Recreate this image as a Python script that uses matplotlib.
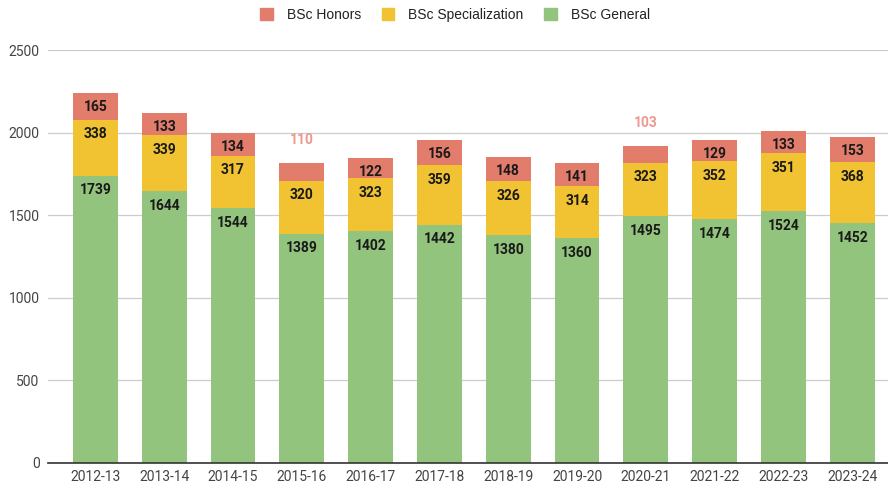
import numpy as np
import matplotlib
matplotlib.use("Agg")
import matplotlib.pyplot as plt
from matplotlib.patches import Patch

plt.rcParams['font.family'] = ['Roboto', 'DejaVu Sans']

years = ["2012-13", "2013-14", "2014-15", "2015-16", "2016-17", "2017-18",
         "2018-19", "2019-20", "2020-21", "2021-22", "2022-23", "2023-24"]
general = [1739, 1644, 1544, 1389, 1402, 1442, 1380, 1360, 1495, 1474, 1524, 1452]
special = [338, 339, 317, 320, 323, 359, 326, 314, 323, 352, 351, 368]
honors = [165, 133, 134, 110, 122, 156, 148, 141, 103, 129, 133, 153]

c_gen = "#93C47D"
c_spec = "#F1C232"
c_hon = "#E27D6B"

fig = plt.figure(figsize=(8.88, 4.87), dpi=100)
ax = fig.add_axes([48 / 888, 24 / 487, 840 / 888, 413 / 487])

x = np.arange(len(years))
w = 0.65
gen = np.array(general)
spe = np.array(special)
hon = np.array(honors)

ax.bar(x, gen, w, color=c_gen, zorder=3)
ax.bar(x, spe, w, bottom=gen, color=c_spec, zorder=3)
ax.bar(x, hon, w, bottom=gen + spe, color=c_hon, zorder=3)

# labels near the top of each segment
for i in range(len(x)):
    for val, top in [(gen[i], gen[i]), (spe[i], gen[i] + spe[i])]:
        ax.annotate(str(val), (x[i], top), xytext=(0, -10.5), textcoords="offset points",
                    ha="center", va="center", fontsize=10, fontweight="bold",
                    color="#1a1a1a", zorder=4)
    total = gen[i] + spe[i] + hon[i]
    if hon[i] >= 120:
        ax.annotate(str(hon[i]), (x[i], total), xytext=(0, -10), textcoords="offset points",
                    ha="center", va="center", fontsize=10, fontweight="bold",
                    color="#1a1a1a", zorder=4)
    else:
        ax.annotate(str(hon[i]), (x[i], total), xytext=(0, 16), textcoords="offset points",
                    ha="center", va="center", fontsize=10, fontweight="bold",
                    color="#EC9A8E", zorder=4)

ax.set_xlim(-0.69, 11.52)
ax.set_ylim(0, 2500)
ax.set_yticks([0, 500, 1000, 1500, 2000, 2500])
ax.set_xticks(x)
ax.set_xticklabels(years)
ax.grid(axis="y", color="#cccccc", linewidth=0.9, zorder=0)
for s in ["top", "right", "left"]:
    ax.spines[s].set_visible(False)
ax.spines["bottom"].set_color("#333333")
ax.spines["bottom"].set_linewidth(1.2)
ax.spines["bottom"].set_zorder(5)
ax.tick_params(axis="both", length=0, labelsize=10, labelcolor="#444444")
ax.tick_params(axis="y", pad=6)
ax.tick_params(axis="x", pad=5)

handles = [Patch(color=c_hon, label="BSc Honors"),
           Patch(color=c_spec, label="BSc Specialization"),
           Patch(color=c_gen, label="BSc General")]
fig.legend(handles=handles, loc="center", bbox_to_anchor=(455 / 888, 1 - 15 / 487),
           ncol=3, frameon=False, prop={"family": "Liberation Sans", "size": 10},
           handlelength=0.9, handleheight=0.9,
           columnspacing=1.5, handletextpad=1.0, labelcolor="#222222")

fig.savefig("out.png", dpi=100)
